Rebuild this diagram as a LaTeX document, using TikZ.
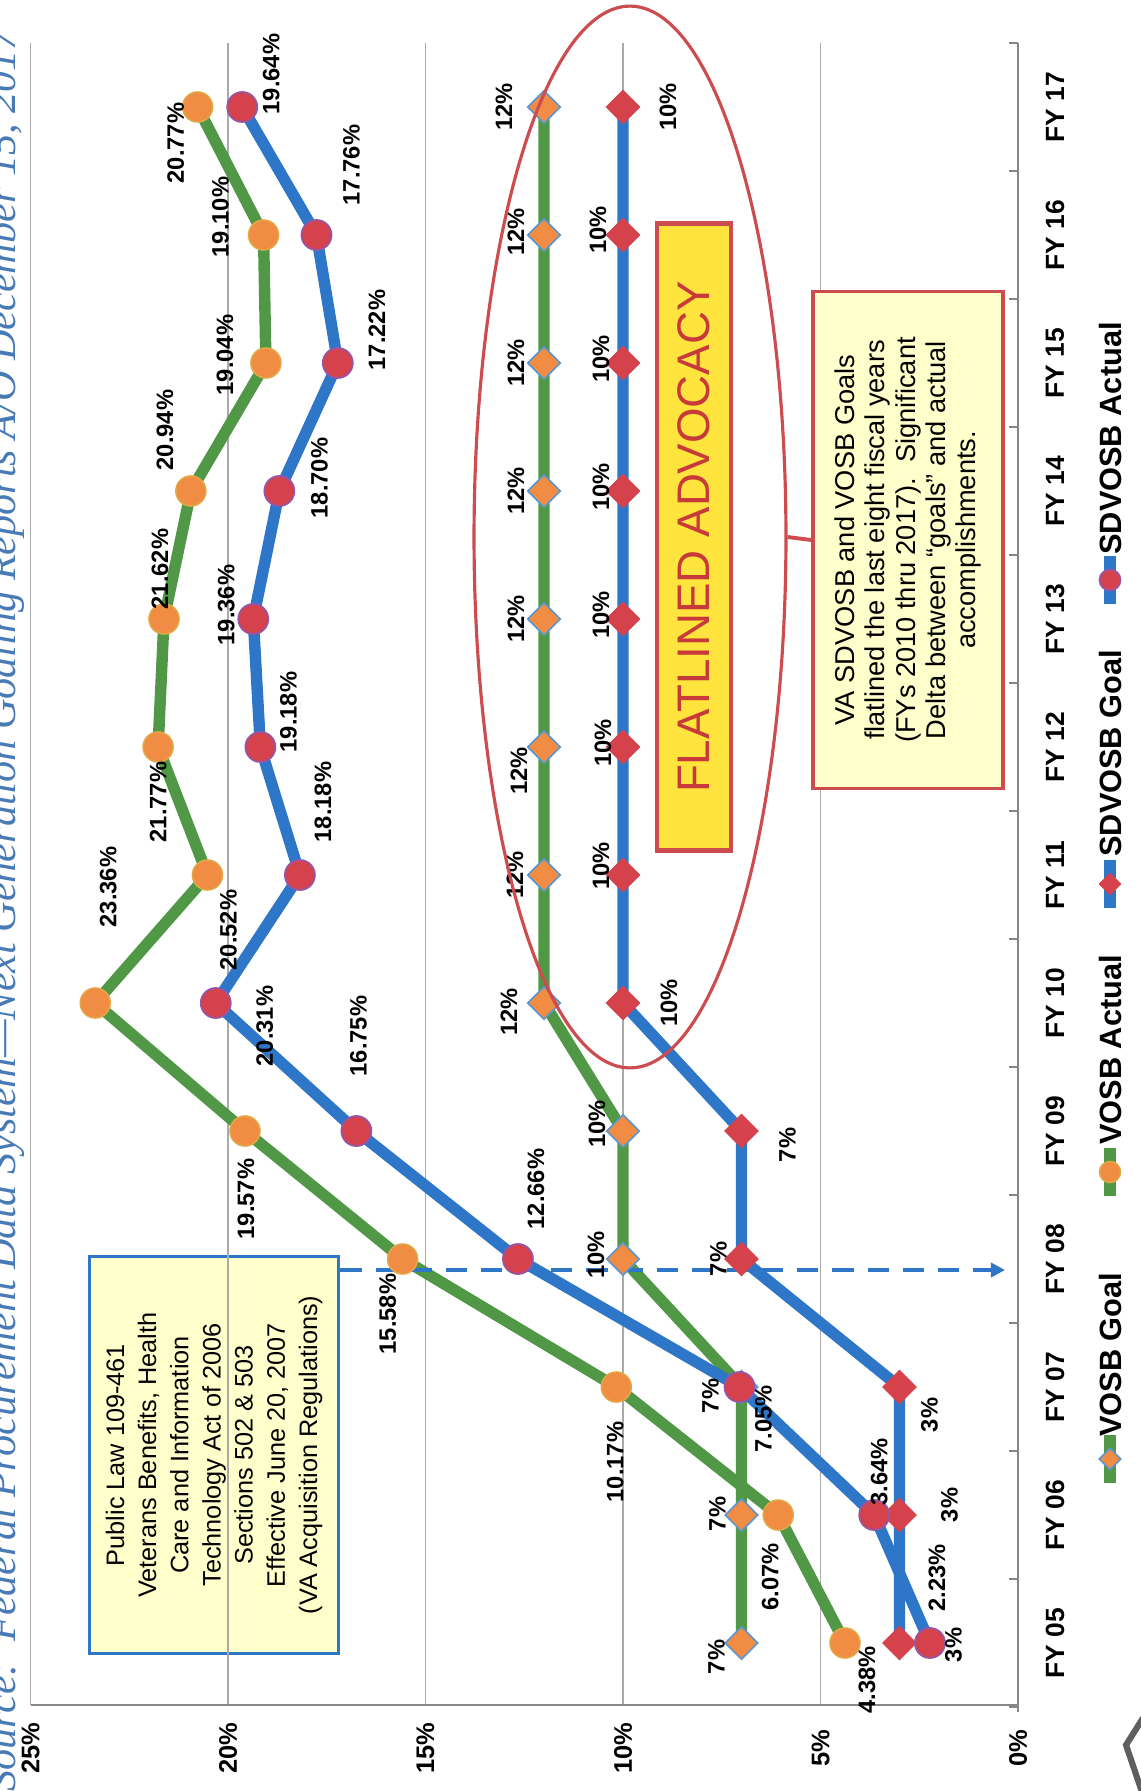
\documentclass[tikz,border=0pt]{standalone}
\usepackage{fontspec}
\setmainfont{Liberation Sans}
\newfontfamily\srcfont{Liberation Serif}
\usetikzlibrary{positioning, arrows.meta, shapes.geometric, calc}

\definecolor{gridgray}{RGB}{170,170,170}
\definecolor{axisgray}{RGB}{135,135,135}
\definecolor{vgreen}{RGB}{80,152,70}
\definecolor{sblue}{RGB}{46,118,200}
\definecolor{vorange}{RGB}{240,140,68}
\definecolor{vring}{RGB}{226,168,70}
\definecolor{goalblue}{RGB}{90,150,210}
\definecolor{sred}{RGB}{214,66,76}
\definecolor{spurple}{RGB}{150,85,165}
\definecolor{notefill}{RGB}{255,255,204}
\definecolor{flatfill}{RGB}{255,228,62}
\definecolor{annred}{RGB}{204,76,80}
\definecolor{flattext}{RGB}{200,58,58}
\definecolor{srcblue}{RGB}{72,122,182}
\definecolor{chevgray}{RGB}{95,95,95}

% Wert/Offset-Listen: Wert / dx / dy (Pixel)
\def\vaData{4.38/22/37, 6.07/-8/62, 10.17/-1/75, 15.58/-15/55, 19.57/1/68, 23.36/13/-116, 20.52/21/55, 21.77/0/55, 21.62/-4/-50, 20.94/-26/-61, 19.04/-41/-8, 19.10/-43/-18, 20.77/-22/36}
\def\saData{2.23/7/-65, 3.64/5/-43, 7.05/24/32, 12.66/18/-70, 16.75/2/-95, 20.31/49/23, 18.18/23/-73, 19.18/28/-35, 19.36/-27/-14, 18.70/40/-13, 17.22/39/-33, 17.76/35/-70, 19.64/29/-33}
\def\vgData{7/-25/14, 7/-24/-1, 7/-31/9, 10/-27/-4, 10/-26/-7, 12/-35/9, 12/-29/0, 12/-25/24, 12/-28/0, 12/-28/0, 12/-28/0, 12/-28/-3, 12/-40/0}
\def\sgData{3/54/2, 3/50/-10, 3/30/28, 7/-23/0, 7/46/14, 10/46/0, 10/-22/-9, 10/-20/-4, 10/-22/-4, 10/-22/-4, 10/-22/-4, 10/-25/-5, 10/45/0}

\begin{document}
\begin{tikzpicture}[x=0.02cm, y=-0.02cm,
  gridline/.style={draw=gridgray, line width=0.7pt},
  axisline/.style={draw=axisgray, line width=1pt},
  vosbline/.style={draw=vgreen, line width=6.5pt, line join=round, line cap=round},
  sdvosbline/.style={draw=sblue, line width=6.5pt, line join=round, line cap=round},
  vgoal/.style={diamond, aspect=1, fill=vorange, draw=goalblue, line width=0.9pt, inner sep=0pt, minimum size=0.66cm},
  vactual/.style={circle, fill=vorange, draw=vring, line width=0.9pt, inner sep=0pt, minimum size=0.6cm},
  sgoal/.style={diamond, aspect=1, fill=sred, draw=sred, inner sep=0pt, minimum size=0.68cm},
  sactual/.style={circle, fill=sred, draw=spurple, line width=1pt, inner sep=0pt, minimum size=0.6cm},
  datalabel/.style={rotate=90, inner sep=0pt, font=\bfseries\fontsize{13.5}{15}\selectfont},
  axislabel/.style={rotate=90, inner sep=0pt, font=\bfseries\fontsize{14.5}{16}\selectfont},
  fylabel/.style={rotate=90, inner sep=0pt, font=\bfseries\fontsize{15}{17}\selectfont},
  legendtext/.style={rotate=90, inner sep=0pt, anchor=west, font=\bfseries\fontsize{17.5}{20}\selectfont},
  notebox/.style={rotate=90, fill=notefill, align=center, inner sep=0pt},
  lawarrow/.style={draw=sblue, line width=2.2pt, dash pattern=on 12pt off 8pt, -{Triangle[length=8pt, width=8pt]}}
]
\useasboundingbox (0,0) rectangle (1140,1791);

% --- Hinweis Public Law ---
\node[notebox, draw=sblue, line width=1.7pt, minimum width=7.94cm, minimum height=5.0cm, font=\fontsize{14.4}{18.3}\selectfont] (plbox) at (214,1455) {Public Law 109-461\\ Veterans Benefits, Health\\ Care and Information\\ Technology Act of 2006\\ Sections 502 \& 503\\ Effective June 20, 2007\\ (VA Acquisition Regulations)};

% --- Gitter und Achsen ---
\foreach \p in {5,10,...,25} \draw[gridline] ({1018-39.5*\p},43) -- ({1018-39.5*\p},1705);
\draw[axisline] (30.5,1705) -- (1018,1705);
\draw[axisline] (1018,43) -- (1018,1712);
\foreach \k in {0,...,13} \draw[axisline] (1009,{1707-128*\k}) -- (1018,{1707-128*\k});
\foreach \p in {0,5,...,25} \node[axislabel] (pct\p) at ({1018-39.5*\p},1748) {\p\%};
\foreach \fy [count=\i from 0] in {05,06,07,08,09,10,11,12,13,14,15,16,17}
  \node[fylabel] (fy\fy) at (1055,{1643-128*\i}) {FY \fy};

% --- Datenpunkte ---
\foreach \v/\dx/\dy [count=\i from 0] in \vgData {\coordinate (vg\i) at ({1018-39.5*\v},{1643-128*\i});}
\foreach \v/\dx/\dy [count=\i from 0] in \vaData {\coordinate (va\i) at ({1018-39.5*\v},{1643-128*\i});}
\foreach \v/\dx/\dy [count=\i from 0] in \sgData {\coordinate (sg\i) at ({1018-39.5*\v},{1643-128*\i});}
\foreach \v/\dx/\dy [count=\i from 0] in \saData {\coordinate (sa\i) at ({1018-39.5*\v},{1643-128*\i});}

% --- Linien ---
\draw[vosbline] (vg0) \foreach \i in {1,...,12} {-- (vg\i)};
\draw[vosbline] (va0) \foreach \i in {1,...,12} {-- (va\i)};
\draw[sdvosbline] (sg0) \foreach \i in {1,...,12} {-- (sg\i)};
\draw[sdvosbline] (sa0) \foreach \i in {1,...,12} {-- (sa\i)};

% --- Stichtag Juni 2007 ---
\coordinate (june07) at (1005,1270);
\draw[lawarrow] (plbox.south |- june07) -- (june07);

% --- Marker ---
\foreach \i in {0,...,12} {
  \node[vgoal] (vgM\i) at (vg\i) {};
  \node[vactual] (vaM\i) at (va\i) {};
  \node[sgoal] (sgM\i) at (sg\i) {};
  \node[sactual] (saM\i) at (sa\i) {};
}

% --- Datenbeschriftungen ---
\foreach \v/\dx/\dy [count=\i from 0] in \vgData \node[datalabel] (vgL\i) at ($(vg\i)+(\dx,\dy)$) {\v\%};
\foreach \v/\dx/\dy [count=\i from 0] in \vaData \node[datalabel] (vaL\i) at ($(va\i)+(\dx,\dy)$) {\v\%};
\foreach \v/\dx/\dy [count=\i from 0] in \sgData \node[datalabel] (sgL\i) at ($(sg\i)+(\dx,\dy)$) {\v\%};
\foreach \v/\dx/\dy [count=\i from 0] in \saData \node[datalabel] (saL\i) at ($(sa\i)+(\dx,\dy)$) {\v\%};

% --- Markierung FY10-FY17 ---
\node[draw=annred, line width=1.8pt, ellipse, minimum width=6.24cm, minimum height=21.24cm, inner sep=0pt] (flatoval) at (630,537) {};
\node[rotate=90, draw=annred, line width=2.8pt, fill=flatfill, text=flattext, minimum width=12.56cm, minimum height=1.48cm, inner sep=0pt, font=\fontsize{26}{30}\selectfont] (flatbox) at (694,537) {FLATLINED ADVOCACY};
\node[notebox, draw=annred, line width=2.2pt, minimum width=9.94cm, minimum height=3.8cm, font=\fontsize{15.5}{17.2}\selectfont] (vabox) at (908,540) {VA SDVOSB and VOSB Goals\\ flatlined the last eight fiscal years\\ (FYs 2010 thru 2017).\ \ Significant\\ Delta between “goals” and actual\\ accomplishments.};
\draw[draw=annred, line width=2.2pt] (flatoval.east) -- (vabox.north);

% --- Legende ---
\draw[vosbline, line cap=butt] (1110,1435) -- (1110,1483);
\node[vgoal, minimum size=0.44cm] (lgVG) at (1110,1459) {};
\node[legendtext] (lgVGt) at (1110,1437) {VOSB Goal};
\draw[vosbline, line cap=butt] (1110,1148) -- (1110,1196);
\node[vactual, minimum size=0.42cm] (lgVA) at (1110,1172) {};
\node[legendtext] (lgVAt) at (1110,1145) {VOSB Actual};
\draw[sdvosbline, line cap=butt] (1110,860) -- (1110,908);
\node[sgoal, minimum size=0.44cm] (lgSG) at (1110,884) {};
\node[legendtext] (lgSGt) at (1110,857) {SDVOSB Goal};
\draw[sdvosbline, line cap=butt] (1110,556) -- (1110,604);
\node[sactual, minimum size=0.42cm] (lgSA) at (1110,580) {};
\node[legendtext] (lgSAt) at (1110,555) {SDVOSB Actual};

% --- Quelle ---
\node[rotate=90, anchor=base east, inner sep=0pt, text=srcblue, font=\srcfont\itshape\fontsize{24}{28}\selectfont] (source) at (15,29) {Source:\ \ Federal Procurement Data System—Next Generation Goaling Reports A/O December 15, 2017};

% --- Ecke unten rechts ---
\draw[draw=chevgray, line width=3.5pt] (1143,1718) -- (1126,1745) -- (1143,1795);
\end{tikzpicture}
\end{document}
